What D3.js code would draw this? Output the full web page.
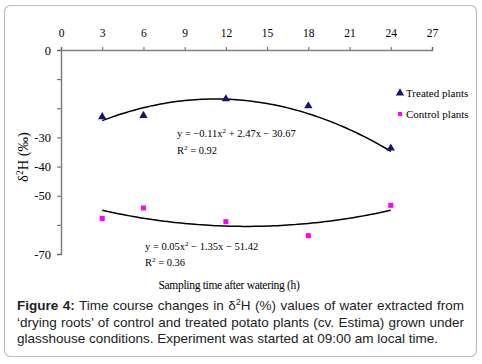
<!DOCTYPE html>
<html>
<head>
<meta charset="utf-8">
<script src="https://cdn.jsdelivr.net/npm/d3@7"></script>
<style>
  body { margin: 0; background: #fff; }
</style>
</head>
<body>
<svg id="chart" width="482" height="364"></svg>
<script>
// sampling hours
const hours = [3, 6, 12, 18, 24];
// δ2H values
const treated = [-22.9, -22.5, -16.8, -19.2, -33.7];
const control = [-57.8, -54.2, -58.9, -63.7, -53.3];
// polynomial trendline coefficients [a, b, c] for a*x^2 + b*x + c
const treatedFit = [-0.11, 2.47, -30.67];
const controlFit = [0.05, -1.35, -51.42];
const xTicks = [0, 3, 6, 9, 12, 15, 18, 21, 24, 27];
const yTicks = [0, -10, -20, -30, -40, -50, -60, -70];
const yLabelled = [0, -30, -40, -50, -70];

const svg = d3.select("#chart");

// outer frame
svg.append("rect")
  .attr("x", 4.5).attr("y", 5.5)
  .attr("width", 472).attr("height", 351)
  .attr("rx", 6)
  .attr("fill", "none")
  .attr("stroke", "#bdbdbd")
  .attr("stroke-width", 1.2);

const x = d3.scaleLinear().domain([0, 27]).range([61, 432]);
const y = d3.scaleLinear().domain([0, -70]).range([50, 254]);

const serif = "'Liberation Serif', 'Times New Roman', serif";
const sans = "'Liberation Sans', Arial, sans-serif";

// top x axis
const xAxisGroup = svg.append("g")
  .attr("transform", "translate(0,50)")
  .call(d3.axisTop(x).tickValues(xTicks).tickSize(3).tickPadding(10));
xAxisGroup.select(".domain").attr("stroke", "#808080").attr("stroke-width", 1.5);
xAxisGroup.selectAll(".tick line").attr("stroke", "#606060");
xAxisGroup.selectAll(".tick text")
  .attr("font-family", serif).attr("font-size", 11.5).attr("fill", "#000");

// left y axis
const yAxisGroup = svg.append("g")
  .attr("transform", "translate(61,0)")
  .call(d3.axisLeft(y).tickValues(yTicks).tickSize(4).tickPadding(6)
    .tickFormat(d => yLabelled.includes(d) ? d : ""));
yAxisGroup.select(".domain").attr("stroke", "#808080").attr("stroke-width", 1.5);
yAxisGroup.selectAll(".tick line").attr("stroke", "#606060");
yAxisGroup.selectAll(".tick text")
  .attr("font-family", serif).attr("font-size", 12.5).attr("fill", "#000");

// y axis title
const yt = svg.append("text")
  .attr("transform", "translate(28,157) rotate(-90)")
  .attr("text-anchor", "middle")
  .attr("font-family", serif).attr("font-size", 14.5);
yt.append("tspan").text("δ");
yt.append("tspan").attr("dy", -5).attr("font-size", 9.5).text("2");
yt.append("tspan").attr("dy", 5).text("H  (‰)");

// x axis title
svg.append("text")
  .attr("x", 229).attr("y", 289)
  .attr("text-anchor", "middle")
  .attr("font-family", serif).attr("font-size", 11.5)
  .attr("letter-spacing", -0.3)
  .text("Sampling time after watering (h)");

// trendlines
const poly = c => t => c[0] * t * t + c[1] * t + c[2];
const curveX = d3.range(3, 24.01, 0.25);
const line = d3.line().x(d => x(d[0])).y(d => y(d[1]));
[treatedFit, controlFit].forEach(c => {
  const f = poly(c);
  svg.append("path")
    .attr("d", line(curveX.map(t => [t, f(t)])))
    .attr("fill", "none")
    .attr("stroke", "#000")
    .attr("stroke-width", 1.5);
});

// treated points (triangles)
const tri = d3.symbol().type(d3.symbolTriangle).size(30);
svg.selectAll(".treated")
  .data(hours.map((h, i) => [h, treated[i]]))
  .enter().append("path")
  .attr("class", "treated")
  .attr("d", tri)
  .attr("transform", d => `translate(${x(d[0])},${y(d[1])})`)
  .attr("fill", "#141478");

// control points (squares)
svg.selectAll(".control")
  .data(hours.map((h, i) => [h, control[i]]))
  .enter().append("rect")
  .attr("class", "control")
  .attr("x", d => x(d[0]) - 2.5)
  .attr("y", d => y(d[1]) - 2.5)
  .attr("width", 5).attr("height", 5)
  .attr("fill", "#ff00ff");

// equations
function eq(xp, yp, parts) {
  const t = svg.append("text")
    .attr("x", xp).attr("y", yp)
    .attr("font-family", serif).attr("font-size", 10.5);
  parts.forEach(p => {
    if (p.sup) t.append("tspan").attr("dy", -4).attr("font-size", 7).text(p.sup);
    else t.append("tspan").attr("dy", p.down ? 4 : 0).text(p.s);
  });
}
eq(177, 137, [{ s: "y = \u22120.11x" }, { sup: "2" }, { s: " + 2.47x \u2212 30.67", down: true }]);
eq(177, 154, [{ s: "R" }, { sup: "2" }, { s: " = 0.92", down: true }]);
eq(145, 250, [{ s: "y = 0.05x" }, { sup: "2" }, { s: " \u2212 1.35x \u2212 51.42", down: true }]);
eq(145, 266, [{ s: "R" }, { sup: "2" }, { s: " = 0.36", down: true }]);

// legend
const legend = svg.append("g");
legend.append("path")
  .attr("d", tri)
  .attr("transform", "translate(400,93)")
  .attr("fill", "#141478");
legend.append("rect")
  .attr("x", 398).attr("y", 112).attr("width", 4).attr("height", 4)
  .attr("fill", "#ff00ff");
legend.append("text").attr("x", 406).attr("y", 96.5)
  .attr("font-family", serif).attr("font-size", 11).text("Treated plants");
legend.append("text").attr("x", 406).attr("y", 118)
  .attr("font-family", serif).attr("font-size", 11).text("Control plants");

// caption, justified line by line
const captionLines = [
  [{ b: "Figure 4:" }, { s: " Time course changes in δ" }, { sup: "2" }, { s: "H (%) values of water extracted from", down: true }],
  [{ s: "‘drying roots’ of control and treated potato plants (cv. Estima) grown under" }],
  [{ s: "glasshouse conditions. Experiment was started at 09:00 am local time." }]
];
const capLeft = 17, capRight = 464, capBase = [310, 326.5, 342.5];
captionLines.forEach((parts, li) => {
  const t = svg.append("text")
    .attr("x", capLeft).attr("y", capBase[li])
    .attr("font-family", sans).attr("font-size", 13.5).attr("fill", "#222");
  parts.forEach(p => {
    if (p.b) t.append("tspan").attr("font-weight", "bold").text(p.b);
    else if (p.sup) t.append("tspan").attr("dy", -5).attr("font-size", 9).text(p.sup);
    else t.append("tspan").attr("dy", p.down ? 5 : 0).text(p.s);
  });
  if (li < captionLines.length - 1) {
    const full = parts.map(p => p.b || p.s || p.sup).join("");
    const gaps = (full.match(/ /g) || []).length;
    const extra = (capRight - capLeft) - t.node().getComputedTextLength();
    if (gaps > 0 && extra > 0) t.style("word-spacing", (extra / gaps) + "px");
  }
});
</script>
</body>
</html>
